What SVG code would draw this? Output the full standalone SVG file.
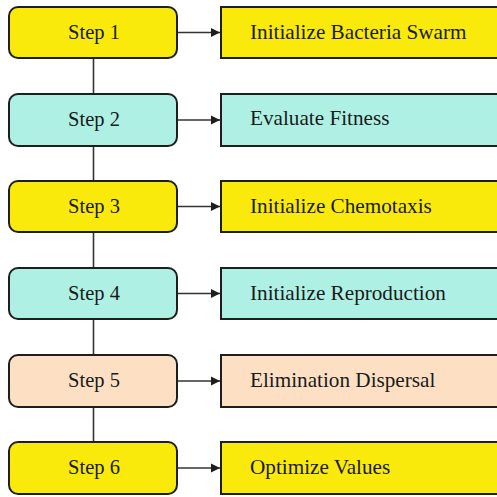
<svg xmlns="http://www.w3.org/2000/svg" width="497" height="497" viewBox="0 0 497 497">
<style>
.step{stroke:#1e1e1e;stroke-width:2}
.yel{fill:#f9ea0c}
.cyan{fill:#aef1e4}
.peach{fill:#fde0c4}
text{font-family:"Liberation Serif","Times New Roman",serif;font-size:20.5px;fill:#1a1a1a}
.c{text-anchor:middle}
.r{font-size:21.2px}
.conn{stroke:#333;stroke-width:1.6;fill:none}
</style>
<defs>
<marker id="ah" markerWidth="10" markerHeight="10" refX="9" refY="5" orient="auto" markerUnits="userSpaceOnUse">
<path d="M0,0.5 L9,5 L0,9.5 Z" fill="#1e1e1e"/>
</marker>
</defs>
<rect width="497" height="497" fill="#ffffff"/>
<g id="connectors">
<line class="conn" x1="93.5" y1="58" x2="93.5" y2="442"/>
<line class="conn" x1="177" y1="32.5" x2="220" y2="32.5" marker-end="url(#ah)"/>
<line class="conn" x1="177" y1="120" x2="220" y2="120" marker-end="url(#ah)"/>
<line class="conn" x1="177" y1="206.5" x2="220" y2="206.5" marker-end="url(#ah)"/>
<line class="conn" x1="177" y1="293.5" x2="220" y2="293.5" marker-end="url(#ah)"/>
<line class="conn" x1="177" y1="381" x2="220" y2="381" marker-end="url(#ah)"/>
<line class="conn" x1="177" y1="468" x2="220" y2="468" marker-end="url(#ah)"/>
</g>
<g id="step1">
<rect class="step yel" x="9" y="7" width="168" height="51" rx="9"/>
<text class="c" x="94" y="39">Step 1</text>
</g>
<g id="action1">
<rect class="step yel" x="221" y="7" width="290" height="51"/>
<text class="r" x="250" y="38.5">Initialize Bacteria Swarm</text>
</g>
<g id="step2">
<rect class="step cyan" x="9" y="94" width="168" height="52" rx="9"/>
<text class="c" x="94" y="126">Step 2</text>
</g>
<g id="action2">
<rect class="step cyan" x="221" y="94" width="290" height="52"/>
<text class="r" x="250" y="125">Evaluate Fitness</text>
</g>
<g id="step3">
<rect class="step yel" x="9" y="181" width="168" height="51" rx="9"/>
<text class="c" x="94" y="213">Step 3</text>
</g>
<g id="action3">
<rect class="step yel" x="221" y="181" width="290" height="51"/>
<text class="r" x="250" y="212.5">Initialize Chemotaxis</text>
</g>
<g id="step4">
<rect class="step cyan" x="9" y="268" width="168" height="51" rx="9"/>
<text class="c" x="94" y="300">Step 4</text>
</g>
<g id="action4">
<rect class="step cyan" x="221" y="268" width="290" height="51"/>
<text class="r" x="250" y="299.5">Initialize Reproduction</text>
</g>
<g id="step5">
<rect class="step peach" x="9" y="355" width="168" height="52" rx="9"/>
<text class="c" x="94" y="387">Step 5</text>
</g>
<g id="action5">
<rect class="step peach" x="221" y="355" width="290" height="52"/>
<text class="r" x="250" y="386.5">Elimination Dispersal</text>
</g>
<g id="step6">
<rect class="step yel" x="9" y="442" width="168" height="52" rx="9"/>
<text class="c" x="94" y="474">Step 6</text>
</g>
<g id="action6">
<rect class="step yel" x="221" y="442" width="290" height="52"/>
<text class="r" x="250" y="473.5">Optimize Values</text>
</g>
</svg>
